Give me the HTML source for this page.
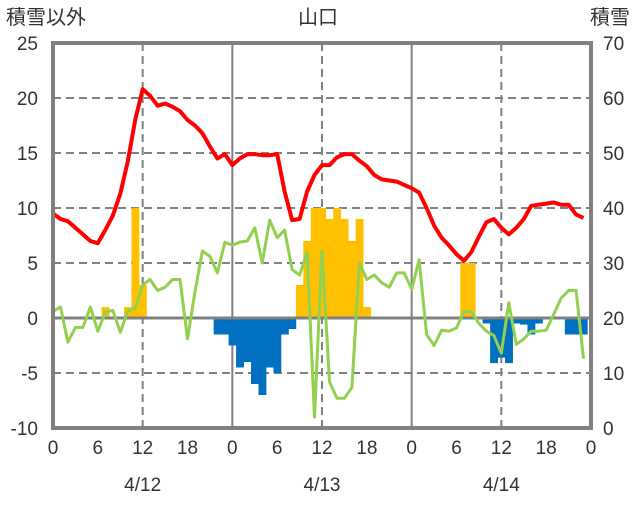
<!DOCTYPE html>
<html><head><meta charset="utf-8"><style>
body{margin:0;background:#fff;}
svg text{font-family:"Liberation Sans","Noto Sans CJK JP",sans-serif;fill:#333;}
</style></head><body>
<svg id="chart" width="636" height="501" xmlns="http://www.w3.org/2000/svg">
<g id="grid"></g>
<g id="bars"></g>
<g id="lines"></g>
<g id="axes"></g>
<text x="6" y="24" font-size="20">積雪以外</text>
<text x="318" y="24" font-size="20" text-anchor="middle">山口</text>
<text x="630" y="24" font-size="20" text-anchor="end">積雪</text>
</svg>
<script>
const leftTicks=[25,20,15,10,5,0,-5,-10];
const rightTicks=[70,60,50,40,30,20,10,0];
const hourLabels=["0","6","12","18","0","6","12","18","0","6","12","18","0"];
const dateLabels=["4/12","4/13","4/14"];
const redSeries=[9.5,9.0,8.8,8.2,7.6,7.0,6.8,8.0,9.3,11.3,14.2,18.0,20.8,20.2,19.3,19.5,19.2,18.8,18.0,17.5,16.8,15.6,14.5,14.9,13.9,14.5,14.9,14.9,14.8,14.8,14.9,11.5,8.9,9.0,11.5,13.0,13.9,13.9,14.6,14.9,14.9,14.3,13.8,13.0,12.6,12.5,12.4,12.1,11.8,11.4,10.0,8.4,7.3,6.6,5.8,5.2,6.0,7.4,8.7,9.0,8.2,7.6,8.2,9.0,10.2,10.3,10.4,10.5,10.3,10.3,9.4,9.1];
const greenSeries=[0.6,1.0,-2.2,-0.85,-0.85,1.0,-1.2,0.5,0.7,-1.3,0.6,0.9,3.0,3.5,2.5,2.8,3.5,3.5,-1.9,2.4,6.1,5.6,4.1,6.9,6.6,6.9,7.0,8.2,5.0,8.9,7.3,8.0,4.4,3.9,6.0,-9.0,6.1,-5.8,-7.3,-7.3,-6.3,5.0,3.5,3.9,3.2,2.8,4.1,4.1,2.6,5.3,-1.5,-2.5,-1.1,-1.2,-0.9,0.6,0.6,-0.5,-1.2,-1.6,-3.2,1.4,-2.4,-1.9,-1.2,-1.2,-1.1,0.3,1.8,2.5,2.5,-3.7];
const barSeries=[0,0,0,0,0,0,0,1.0,0,0,1.0,10,3.0,0,0,0,0,0,0,0,0,0,-1.5,-1.5,-2.5,-4.5,-4.0,-6.0,-7.0,-4.5,-5.0,-1.5,-1.0,3.0,7.0,10,10,9.0,10,9.0,7.0,9.0,1.0,0,0,0,0,0,0,0,0,0,0,0,0,5.0,5.0,0,-0.5,-4.1,-3.6,-4.1,-0.5,-0.6,-1.5,-0.5,0,0,0,-1.5,-1.5,-1.5];

const X0=53,X1=591,Y0=43,Y1=428,NS="http://www.w3.org/2000/svg";
const xh=h=>X0+h*(X1-X0)/72;
const yl=v=>Y0+(25-v)*(Y1-Y0)/35;
const yr=v=>Y0+(70-v)*(Y1-Y0)/70;
function mk(parent,tag,attrs){const e=document.createElementNS(NS,tag);for(const k in attrs)e.setAttribute(k,attrs[k]);document.getElementById(parent).appendChild(e);return e;}
// grid
leftTicks.forEach(t=>{if(t===25||t===-10)return;
 const e=mk('grid','line',{x1:X0,x2:X1,y1:yl(t),y2:yl(t),stroke:t===0?'#808080':'#808080','stroke-width':t===0?3:2,'stroke-dasharray':t===0?'':'8,5'});
 
 });
[12,24,36,48,60].forEach(h=>{const solid=h%24===0;
 const e=mk('grid','line',{x1:xh(h),x2:xh(h),y1:Y0,y2:Y1,stroke:'#808080','stroke-width':2,'stroke-dasharray':solid?'':'8,5'});
 
 });
// bars
const bw=(X1-X0)/72;
barSeries.forEach((v,i)=>{if(v===0)return;
 const y=Math.min(yl(v),yl(0)),h=Math.abs(yl(v)-yl(0));
 const e=mk('bars','rect',{x:xh(i)-bw/2,y:y,width:bw+0.4,height:h,fill:v>0?'#FFC000':'#0070C0'});
 
 });
// redraw zero line on top of bars
const z=mk('bars','line',{x1:X0,x2:X1,y1:yl(0),y2:yl(0),stroke:'#808080','stroke-width':3});


// lines
function line(data,color,w,name){const pts=data.map((v,i)=>xh(i).toFixed(1)+','+yl(v).toFixed(1)).join(' ');
 const e=mk('lines','polyline',{points:pts,fill:'none',stroke:color,'stroke-width':w,'stroke-linejoin':'round'});
 
 }
line(greenSeries,'#92D050',3,'green-series-line');
line(redSeries,'#FF0000',4,'red-series-line');
// frame
const fr=mk('axes','rect',{x:X0,y:Y0,width:X1-X0,height:Y1-Y0,fill:'none',stroke:'#808080','stroke-width':4});


leftTicks.forEach(t=>{const e=mk('axes','text',{x:38,y:yl(t)+7,'font-size':19,'text-anchor':'end'});e.textContent=t;
 
 });
rightTicks.forEach(t=>{const e=mk('axes','text',{x:603,y:yr(t)+7,'font-size':19});e.textContent=t;
 
 });
hourLabels.forEach((t,i)=>{const e=mk('axes','text',{x:xh(i*6),y:454,'font-size':19,'text-anchor':'middle'});e.textContent=t;
 
 });
dateLabels.forEach((t,i)=>{const e=mk('axes','text',{x:xh(12+i*24),y:491,'font-size':19,'text-anchor':'middle'});e.textContent=t;
 
 });
</script>
</body></html>
